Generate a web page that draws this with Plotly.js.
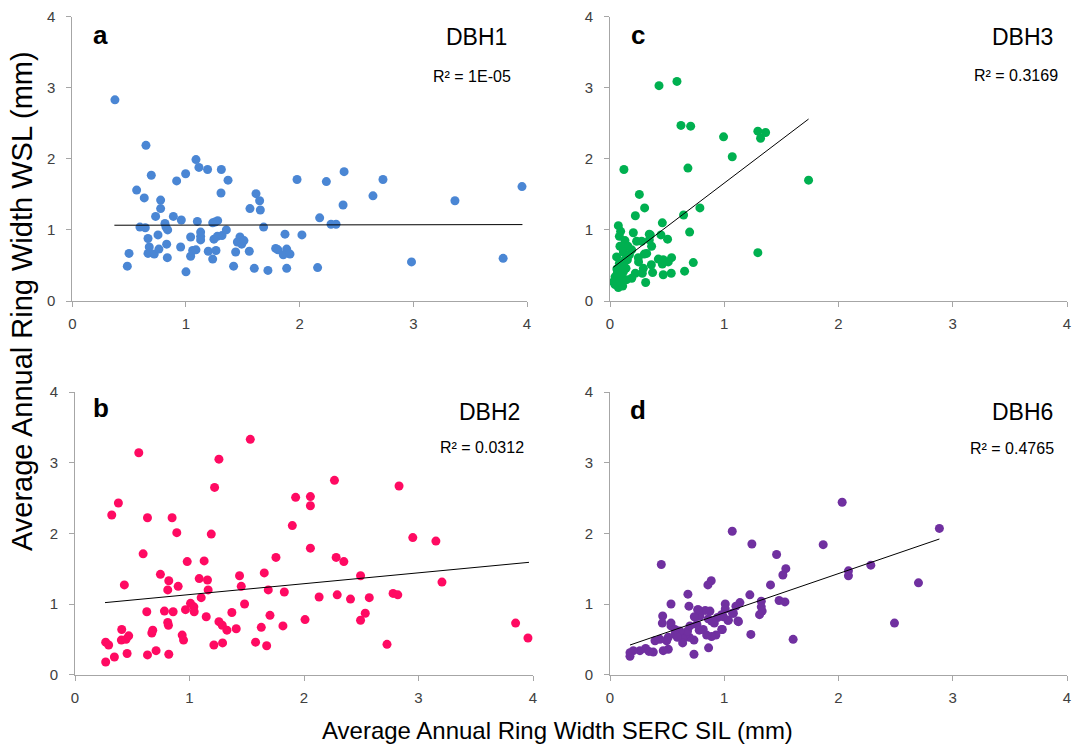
<!DOCTYPE html>
<html>
<head>
<meta charset="utf-8">
<script src="https://cdn.plot.ly/plotly-3.0.1.min.js"></script>
<style>
html,body{margin:0;padding:0;background:#fff;}
#chart{width:1076px;height:747px;}
</style>
</head>
<body>
<div id="chart"></div>
<script>
// ---- Panel a: DBH1 ----
var dbh1_x = [0.375,0.648,0.695,0.566,0.633,0.777,0.777,0.733,0.595,0.642,0.666,0.754,0.815,0.824,0.839,0.830,0.677,0.666,0.721,0.762,0.836,0.499,0.484,0.889,0.959,0.918,0.997,1.088,1.114,1.19,1.311,1.37,1.308,1.10,1.129,1.129,1.129,1.041,0.953,1.0,1.041,1.059,1.088,1.196,1.235,1.264,1.235,1.279,1.255,1.246,1.276,1.317,1.355,1.437,1.419,1.452,1.475,1.49,1.51,1.557,1.563,1.616,1.648,1.654,1.683,1.601,1.721,1.789,1.809,1.871,1.886,1.856,1.915,1.886,1.977,2.02,2.158,2.176,2.235,2.276,2.32,2.391,2.382,2.645,2.733,2.984,3.366,3.79,3.956];
var dbh1_y = [2.83,2.19,1.77,1.56,1.45,1.42,1.30,1.19,1.04,1.03,0.88,0.93,1.09,1.04,1.00,0.80,0.76,0.67,0.66,0.73,0.61,0.67,0.49,1.19,1.14,1.69,1.79,1.99,1.88,1.85,1.85,1.70,1.52,1.12,0.97,0.91,0.86,0.90,0.76,0.41,0.63,0.71,0.72,0.70,0.59,0.71,1.10,1.13,1.11,0.87,0.91,0.92,1.00,0.69,0.49,0.83,0.90,0.80,0.85,0.70,1.30,1.51,1.41,1.28,1.04,0.46,0.43,0.74,0.72,0.94,0.73,0.65,0.66,0.46,1.71,0.93,0.47,1.17,1.68,1.08,1.08,1.82,1.35,1.48,1.71,0.55,1.41,0.60,1.61];
var trend1_x = [0.37, 3.96];
var trend1_y = [1.066, 1.075];

// ---- Panel b: DBH2 ----
var dbh2_x = [0.268,0.268,0.294,0.344,0.321,0.379,0.431,0.408,0.405,0.446,0.469,0.455,0.557,0.595,0.633,0.627,0.633,0.671,0.679,0.708,0.746,0.781,0.819,0.810,0.810,0.816,0.819,0.848,0.857,0.889,0.901,0.936,0.948,0.965,0.98,1.009,1.038,1.041,1.085,1.102,1.128,1.146,1.157,1.163,1.190,1.213,1.219,1.257,1.257,1.286,1.289,1.327,1.370,1.408,1.437,1.452,1.481,1.531,1.577,1.627,1.653,1.674,1.688,1.703,1.755,1.816,1.828,1.898,1.927,2.009,2.056,2.056,2.056,2.132,2.266,2.281,2.29,2.348,2.406,2.494,2.494,2.535,2.57,2.725,2.778,2.819,2.83,2.95,3.152,3.205,3.848,3.956];
var dbh2_y = [0.18,0.46,0.42,0.25,2.26,2.43,1.27,0.64,0.49,0.50,0.55,0.30,3.14,1.71,2.22,0.89,0.28,0.59,0.63,0.34,1.42,0.90,1.33,1.20,0.74,0.70,0.29,2.22,0.89,2.01,1.25,0.56,0.49,0.92,1.60,1.01,0.96,0.89,1.36,1.09,1.61,0.82,1.34,1.20,1.99,0.42,2.65,3.05,0.75,0.70,0.45,0.63,0.88,0.65,1.40,1.25,1.00,3.33,0.46,0.67,1.44,0.41,1.20,0.84,1.66,0.69,1.17,2.11,2.51,0.78,2.52,2.39,1.79,1.10,2.75,1.66,1.13,1.60,1.07,1.40,0.77,0.87,1.09,0.43,1.15,1.13,2.67,1.94,1.89,1.31,0.73,0.52];
var trend2_x = [0.262, 3.965];
var trend2_y = [1.02, 1.59];

// ---- Panel c: DBH3 ----
var dbh3_x = [0.429,0.586,0.621,0.706,0.994,1.07,1.294,1.318,1.362,1.738,0.122,0.682,0.257,0.303,0.222,0.787,0.644,0.458,0.697,1.294,0.729,0.653,0.536,0.466,0.539,0.51,0.458,0.423,0.504,0.446,0.353,0.364,0.321,0.277,0.204,0.073,0.093,0.082,0.131,0.157,0.087,0.058,0.117,0.248,0.30,0.362,0.373,0.292,0.283,0.312,0.222,0.19,0.14,0.117,0.152,0.102,0.044,0.029,0.073,0.111,0.044,0.087,0.146,0.064,0.082,0.131,0.19,0.233,0.344,0.466,0.344,0.25,0.17,0.06,0.10];
var dbh3_y = [3.03,3.09,2.47,2.46,2.31,2.03,2.39,2.29,2.37,1.70,1.85,1.87,1.50,1.31,1.20,1.31,1.21,1.10,0.97,0.68,0.54,0.42,0.39,0.37,0.61,0.55,0.52,0.59,0.87,0.93,0.93,0.77,0.67,0.84,0.96,1.06,0.98,0.91,0.85,0.77,0.77,0.62,0.69,0.61,0.66,0.51,0.40,0.46,0.39,0.26,0.39,0.32,0.46,0.41,0.58,0.34,0.34,0.27,0.19,0.21,0.23,0.27,0.30,0.39,0.53,0.58,0.72,0.84,0.86,0.58,0.94,0.55,0.65,0.45,0.50];
var trend3_x = [0.029, 1.738];
var trend3_y = [0.474, 2.56];

// ---- Panel d: DBH6 ----
var dbh6_x = [2.032,2.883,1.07,1.242,1.866,1.458,0.449,1.539,1.513,2.087,2.087,2.283,2.70,2.49,1.603,0.886,0.857,1.405,0.682,1.224,1.48,1.531,1.324,1.324,1.332,1.309,1.137,1.102,1.009,1.009,1.073,1.032,1.12,0.977,0.942,1.233,0.983,0.927,0.889,0.846,0.863,0.913,0.889,0.875,0.834,0.767,0.787,0.738,0.691,0.781,0.761,0.735,0.735,0.694,0.662,0.636,0.636,0.679,0.700,0.612,0.569,0.534,0.534,0.534,0.461,0.458,0.510,0.510,0.466,0.496,0.437,0.394,0.379,0.341,0.312,0.262,0.204,0.175,0.175,0.86,0.816,0.589,0.569,0.773,0.905,0.992,1.036,1.08,1.124,0.978];
var dbh6_y = [2.44,2.07,2.03,1.85,1.84,1.70,1.56,1.50,1.41,1.47,1.40,1.55,1.30,0.73,0.50,1.33,1.27,1.27,1.14,1.13,1.05,1.03,1.04,0.96,0.90,0.85,1.02,0.97,1.00,0.93,0.87,0.77,0.76,0.85,0.81,0.57,0.64,0.56,0.54,0.56,0.38,0.73,0.76,0.90,0.91,0.92,0.83,0.82,0.97,0.63,0.71,0.49,0.29,0.53,0.57,0.50,0.45,0.62,0.69,0.62,0.57,0.69,1.00,0.73,0.83,0.73,0.53,0.36,0.34,0.48,0.50,0.48,0.32,0.33,0.37,0.34,0.34,0.31,0.26,0.79,0.64,0.53,0.64,0.92,0.75,0.82,0.77,0.87,0.75,0.64];
var trend6_x = [0.175, 2.883];
var trend6_y = [0.42, 1.92];

var panelNames = ["DBH1","DBH2","DBH3","DBH6"];
var panelLetters = ["a","b","c","d"];
var r2Labels = ["R² = 1E-05","R² = 0.0312","R² = 0.3169","R² = 0.4765"];
var tickVals = [0,1,2,3,4];
var tickText = ["0","1","2","3","4"];
var xTitle = "Average Annual Ring Width SERC SIL (mm)";
var yTitle = "Average Annual Ring Width WSL (mm)";

var W = 1076, H = 747;
function px(x){ return x / W; }
function py(y){ return 1 - y / H; }

var colors = {a:"#4A86D4", b:"#FF0A62", c:"#00B050", d:"#7030A0"};

function scatter(x, y, c, xa, ya){
  return {x:x, y:y, type:"scatter", mode:"markers", xaxis:xa, yaxis:ya,
    marker:{size:9, color:c, line:{width:0}}, hoverinfo:"x+y", showlegend:false};
}
function trend(x, y, xa, ya){
  return {x:x, y:y, type:"scatter", mode:"lines", xaxis:xa, yaxis:ya,
    line:{color:"#000000", width:1}, hoverinfo:"skip", showlegend:false};
}

var data = [
  scatter(dbh1_x, dbh1_y, colors.a, "x", "y"),
  trend(trend1_x, trend1_y, "x", "y"),
  scatter(dbh3_x, dbh3_y, colors.c, "x2", "y2"),
  trend(trend3_x, trend3_y, "x2", "y2"),
  scatter(dbh2_x, dbh2_y, colors.b, "x3", "y3"),
  trend(trend2_x, trend2_y, "x3", "y3"),
  scatter(dbh6_x, dbh6_y, colors.d, "x4", "y4"),
  trend(trend6_x, trend6_y, "x4", "y4")
];

var tickFont = {family:"Liberation Sans, Arial, sans-serif", size:15, color:"#404040"};
function xax(domain, anchor){
  return {domain:domain, anchor:anchor, range:[0,4], tickvals:tickVals, ticktext:tickText,
    showline:true, linecolor:"#A6A6A6", linewidth:1, ticks:"outside", ticklen:5, tickcolor:"#A6A6A6",
    showgrid:false, zeroline:false, tickfont:tickFont, ticklabelstandoff:4, fixedrange:true};
}
function yax(domain, anchor){
  return {domain:domain, anchor:anchor, range:[0,4], tickvals:tickVals, ticktext:tickText,
    showline:true, linecolor:"#A6A6A6", linewidth:1, ticks:"outside", ticklen:5, tickcolor:"#A6A6A6",
    showgrid:false, zeroline:false, tickfont:tickFont, ticklabelstandoff:8, fixedrange:true};
}

var topY = [py(301), py(16.7)];
var botY = [py(674.7), py(392)];
var leftXa = [px(72.3), px(527)];
var leftXb = [px(75), px(533)];
var rightX = [px(610), px(1067)];

function ann(text, x, y, size, bold, extra){
  var a = {text: bold ? "<b>"+text+"</b>" : text, x:px(x), y:py(y), xref:"paper", yref:"paper",
    xanchor:"center", yanchor:"middle", showarrow:false,
    font:{family:"Liberation Sans, Arial, sans-serif", size:size, color:"#000000"}};
  if (extra) for (var k in extra) a[k] = extra[k];
  return a;
}

var annotations = [
  ann(panelLetters[0], 100, 35, 26, true),
  ann(panelLetters[2], 638, 35, 26, true),
  ann(panelLetters[1], 101, 408, 26, true),
  ann(panelLetters[3], 638, 410, 26, true),
  ann(panelNames[0], 476, 37, 23, false),
  ann(panelNames[2], 1022, 37, 23, false),
  ann(panelNames[1], 489, 412, 23, false),
  ann(panelNames[3], 1022, 412, 23, false),
  ann(r2Labels[0], 472, 77, 16, false),
  ann(r2Labels[2], 1016, 75, 16, false),
  ann(r2Labels[1], 482, 447, 16, false),
  ann(r2Labels[3], 1012, 448, 16, false),
  ann(xTitle, 557, 730, 24, false),
  ann(yTitle, 22, 301, 29, false, {textangle:-90})
];

var layout = {
  width:W, height:H,
  margin:{l:0, r:0, t:0, b:0},
  paper_bgcolor:"#ffffff", plot_bgcolor:"#ffffff",
  showlegend:false,
  xaxis: xax(leftXa, "y"),
  yaxis: yax(topY, "x"),
  xaxis2: xax(rightX, "y2"),
  yaxis2: yax(topY, "x2"),
  xaxis3: xax(leftXb, "y3"),
  yaxis3: yax(botY, "x3"),
  xaxis4: xax(rightX, "y4"),
  yaxis4: yax(botY, "x4"),
  annotations: annotations
};

Plotly.newPlot("chart", data, layout, {displayModeBar:false, staticPlot:true});
</script>
</body>
</html>
